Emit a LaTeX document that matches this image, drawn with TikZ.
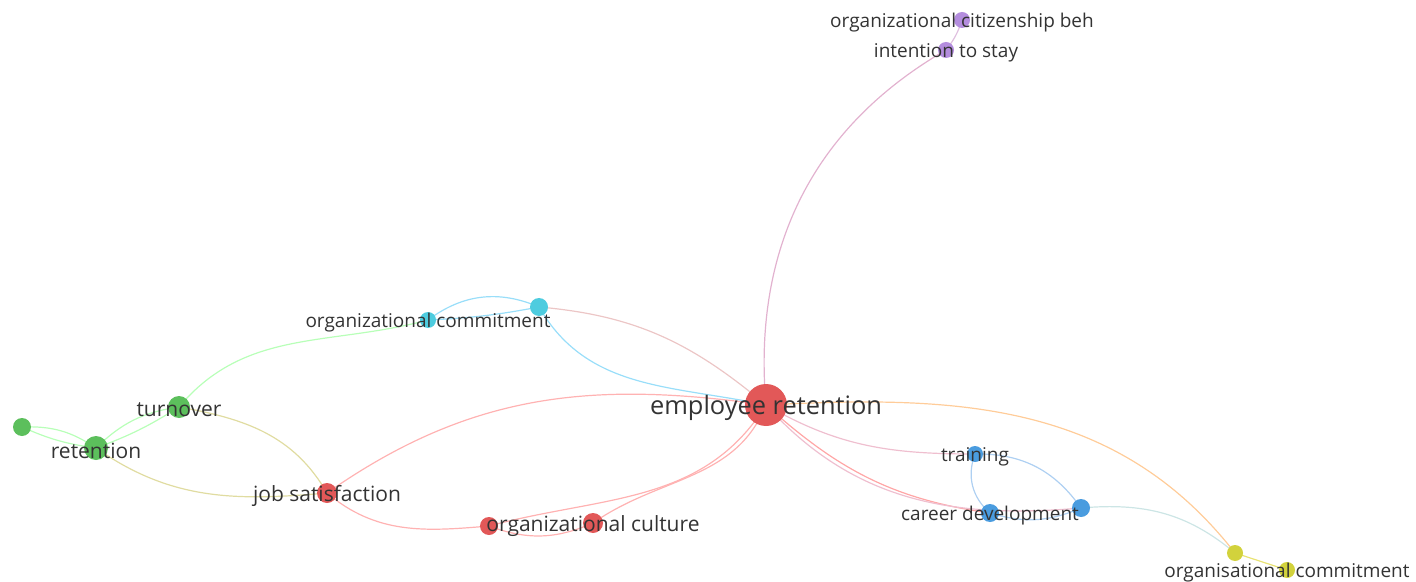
\documentclass[tikz,border=0pt]{standalone}
\usepackage{fontspec}
\setmainfont{Open Sans}

\pgfdeclarelayer{background}
\pgfsetlayers{background,main}

\definecolor{redn}{HTML}{E25858}
\definecolor{greenn}{HTML}{5CBF5C}
\definecolor{cyann}{HTML}{4ECCDF}
\definecolor{purplen}{HTML}{B48DDE}
\definecolor{bluen}{HTML}{4A9CDF}
\definecolor{yellown}{HTML}{D2D23C}
\definecolor{txt}{HTML}{333333}
\definecolor{bluee}{HTML}{AED0F2}

\tikzstyle{vertex}=[circle, inner sep=0pt]
\tikzstyle{lbl}=[text=txt, inner sep=0pt, yshift=-1.5pt, font=\fontsize{9.5}{10}\selectfont]
\tikzstyle{lblm}=[lbl, font=\fontsize{10.5}{11}\selectfont]
\tikzstyle{lblb}=[lbl, font=\fontsize{12.7}{13}\selectfont]
\tikzstyle{edge}=[line width=0.6pt, draw=red!30]

\begin{document}
\begin{tikzpicture}[x=0.5pt, y=-0.5pt]
      \useasboundingbox (0,0) rectangle (1416,582);

      % red cluster
      \node[vertex, fill=redn, minimum size=9pt] (oc2) at (489,526) {};
      \node[vertex, fill=redn, minimum size=21pt, label={[lblb]center:employee retention}] (er) at (766,405) {};
      \node[vertex, fill=redn, minimum size=10pt, label={[lblm]center:job satisfaction}] (js) at (327,493) {};
      \node[vertex, fill=redn, minimum size=10pt, label={[lblm]center:organizational culture}] (oc) at (593,523) {};

      % green cluster
      \node[vertex, fill=greenn, minimum size=9pt] (g0) at (22,427) {};
      \node[vertex, fill=greenn, minimum size=12pt, label={[lblm]center:retention}] (ret) at (96,448) {};
      \node[vertex, fill=greenn, minimum size=11pt, label={[lblm]center:turnover}] (turn) at (179,407) {};

      % cyan cluster
      \node[vertex, fill=cyann, minimum size=9pt] (c2) at (539,307) {};
      \node[vertex, fill=cyann, minimum size=8pt, label={[lbl]center:organizational commitment}] (ocm) at (428,320) {};

      % purple cluster
      \node[vertex, fill=purplen, minimum size=8pt, label={[lbl]center:organizational citizenship beh}] (ocb) at (962,20) {};
      \node[vertex, fill=purplen, minimum size=8pt, label={[lbl]center:intention to stay}] (its) at (946,50) {};

      % blue cluster
      \node[vertex, fill=bluen, minimum size=9pt] (b2) at (1081,508) {};
      \node[vertex, fill=bluen, minimum size=8pt, label={[lbl]center:training}] (tr) at (975,454) {};
      \node[vertex, fill=bluen, minimum size=9pt, label={[lbl]center:career development}] (cd) at (990,513) {};

      % yellow cluster
      \node[vertex, fill=yellown, minimum size=8pt] (y1) at (1235,553) {};
      \node[vertex, fill=yellown, minimum size=8pt, label={[lbl]center:organisational commitment}] (y2) at (1287,570) {};

      \begin{pgfonlayer}{background}
      \draw[edge, draw=red!25!violet!30] (er.center) to[out=95, in=-150] (its.center);
      \draw[edge, draw=violet!25] (its.center) to[bend right=10] (ocb.center);

      \draw[edge, draw=gray!50!red!30] (c2.center) to[out=-5, in=140] (er.center);
      \draw[edge, draw=cyan!40] (c2.center) to[out=-60, in=168] (er.center);
      \draw[edge, draw=cyan!40] (ocm.center) to[bend left=30] (c2.center);
      \draw[edge, draw=cyan!40] (ocm.center) to[bend right=4] (c2.center);

      \draw[edge, draw=green!28] (turn.center) to[out=50, in=195] (ocm.center);
      \draw[edge, draw=green!28] (g0.center) to[bend left=18] (ret.center);
      \draw[edge, draw=green!28] (g0.center) to[bend right=8] (ret.center);
      \draw[edge, draw=green!28] (ret.center) to[bend left=18] (turn.center);
      \draw[edge, draw=green!28] (ret.center) to[bend right=6] (turn.center);
      \draw[edge, draw=olive!28] (ret.center) to[out=-35, in=185] (js.center);
      \draw[edge, draw=olive!28] (turn.center) to[out=-10, in=120] (js.center);

      \draw[edge] (js.center) to[out=35, in=172] (er.center);
      \draw[edge] (js.center) to[out=-40, in=185] (oc2.center);
      \draw[edge] (oc2.center) to[bend right=22] (oc.center);
      \draw[edge] (er.center) to[out=-122, in=15] (oc2.center);
      \draw[edge] (er.center) to[out=-112, in=35] (oc.center);

      \draw[edge, draw=purple!25] (er.center) to[out=-30, in=180] (tr.center);
      \draw[edge, draw=red!35] (er.center) to[out=-42, in=172] (cd.center);
      \draw[edge, draw=purple!25] (er.center) to[out=-48, in=185] (b2.center);
      \draw[edge, draw=orange!40] (er.center) to[out=3, in=128] (y1.center);

      \draw[edge, draw=bluee] (tr.center) to[bend right=35] (cd.center);
      \draw[edge, draw=bluee] (tr.center) to[bend left=28] (b2.center);
      \draw[edge, draw=bluee] (cd.center) to[bend right=20] (b2.center);
      \draw[edge, draw=teal!20] (b2.center) to[out=5, in=140] (y1.center);
      \draw[edge, draw=yellow!60!olive!50] (y1.center) to (y2.center);
      \end{pgfonlayer}
    \end{tikzpicture}
\end{document}
